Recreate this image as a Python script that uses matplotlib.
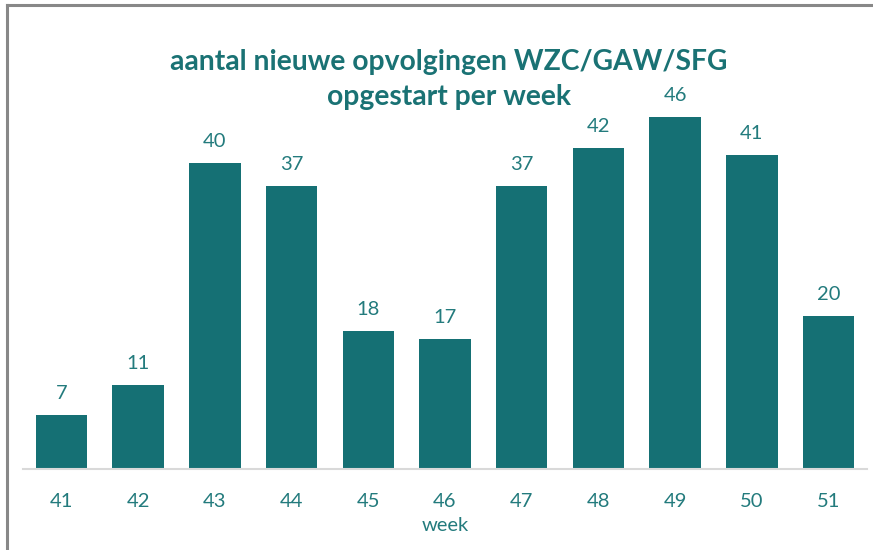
import matplotlib.pyplot as plt
from matplotlib.lines import Line2D

# data uit de grafiek
weken = ['41', '42', '43', '44', '45', '46', '47', '48', '49', '50', '51']
aantallen = [7, 11, 40, 37, 18, 17, 37, 42, 46, 41, 20]

bar_kleur = '#157074'
tekst_kleur = '#237B7D'

plt.rcParams['font.family'] = ['Lato', 'DejaVu Sans']

fig = plt.figure(figsize=(8.73, 5.5), dpi=100)
ax = fig.add_axes([23/873, 81/550, 844/873, 382.5/550])

x = range(len(weken))
bars = ax.bar(x, aantallen, width=0.67, color=bar_kleur)
ax.set_xlim(-0.5, len(weken) - 0.5)
ax.set_ylim(0, 50)

for xi, v in zip(x, aantallen):
    ax.annotate(str(v), (xi, v), xytext=(0, 9.5), textcoords='offset points',
                ha='center', va='bottom', fontsize=14.5, color=tekst_kleur)

ax.set_xticks(list(x))
ax.set_xticklabels(weken, fontsize=14.5, color=tekst_kleur)
ax.tick_params(axis='x', length=0, pad=17)
ax.set_yticks([])
for s in ['top', 'right', 'left']:
    ax.spines[s].set_visible(False)
ax.spines['bottom'].set_color('#d9d9d9')
ax.spines['bottom'].set_linewidth(1.5)
ax.set_xlabel('week', fontsize=14.5, color=tekst_kleur, labelpad=5)

fig.text(0.514, 1 - 62/550, 'aantal nieuwe opvolgingen WZC/GAW/SFG', ha='center', va='center',
         fontsize=20.3, fontweight='bold', color='#1A7274')
fig.text(0.514, 1 - 97/550, 'opgestart per week', ha='center', va='center',
         fontsize=20.3, fontweight='bold', color='#1A7274')

# grijze rand links en boven
fig.add_artist(Line2D([7/873, 7/873], [0, 1 - 5/550], color='#888888', linewidth=2.2))
fig.add_artist(Line2D([7/873, 1], [1 - 5/550, 1 - 5/550], color='#888888', linewidth=2.2))

fig.savefig('out.png', dpi=100)
